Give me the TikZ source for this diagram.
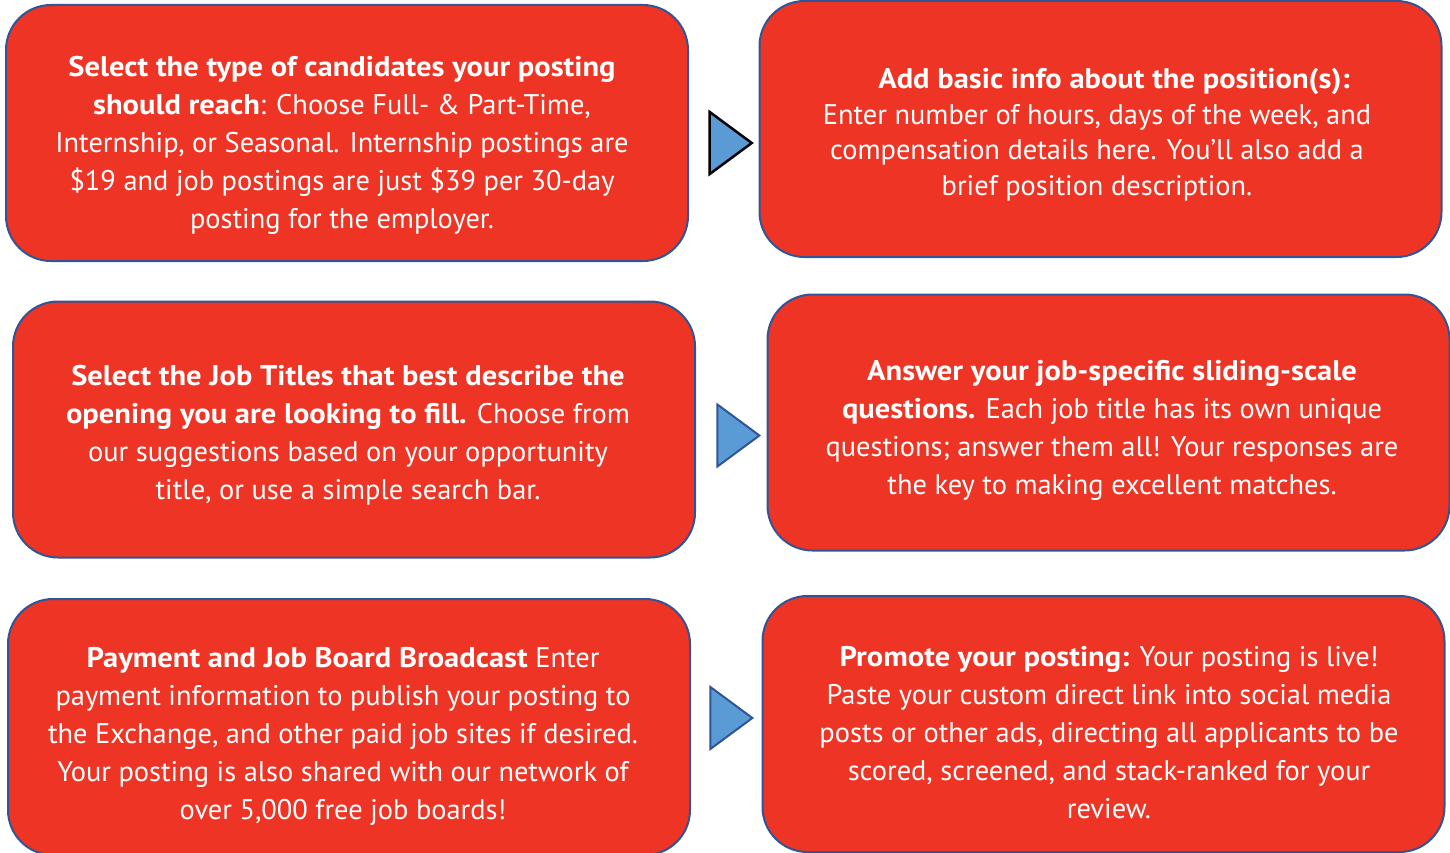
\documentclass[tikz,border=0pt]{standalone}
\usepackage{fontspec}
\setmainfont{PT Sans}[BoldFeatures={FakeStretch=1.075}]
\usetikzlibrary{shapes.geometric,positioning}

\definecolor{stepred}{HTML}{EE3424}
\definecolor{edgeblue}{HTML}{2F5597}
\definecolor{tipblue}{HTML}{5B9BD5}

\tikzset{
  stepbox/.style = {draw=edgeblue, line width=2pt, fill=stepred,
    rounded corners=45pt, minimum width=682pt, minimum height=256pt, inner sep=0pt},
  steptext/.style = {text=white, align=center, font=\fontsize{28.4}{38}\selectfont, inner sep=0pt},
  nextarrow/.style = {isosceles triangle, isosceles triangle stretches, fill=tipblue,
    draw=edgeblue, line width=2pt, minimum width=62pt, minimum height=42pt, inner sep=0pt,
    anchor=apex}
}

\begin{document}
\begin{tikzpicture}[x=1pt, y=-1pt]
    \useasboundingbox (0,0) rectangle (1450,853);

    % left column
    \node[stepbox] (type) at (347,133) {};
    \node[stepbox] (titles) at (354,429.5) {};
    \node[stepbox] (pay) at (349,727) {};

    % right column
    \node[stepbox] (info) at (1100.5,129) {};
    \node[stepbox] (answer) at (1108.5,422.5) {};
    \node[stepbox] (promote) at (1103.5,724) {};

    \node[steptext] (typetext) at (342,145) {\textbf{Select the type of candidates your posting}\\
      \textbf{should reach}: Choose Full- \& Part-Time,\\
      Internship, or Seasonal. Internship postings are\\
      \$19 and job postings are just \$39 per 30-day\\
      posting for the employer.};

    \node[steptext, font=\fontsize{28.4}{35.5}\selectfont] (infotext) at (1097,134.5) {\hspace*{34pt}\textbf{Add basic info about the position(s):}\\
      Enter number of hours, days of the week, and\\
      compensation details here. You’ll also add a\\
      brief position description.};

    \node[steptext] (titlestext) at (348,435.5) {\textbf{Select the Job Titles that best describe the}\\
      \textbf{opening you are looking to fill.} Choose from\\
      our suggestions based on your opportunity\\
      title, or use a simple search bar.};

    \node[steptext] (answertext) at (1112,430.5) {\textbf{Answer your job-specific sliding-scale}\\
      \textbf{questions.} Each job title has its own unique\\
      questions; answer them all! Your responses are\\
      the key to making excellent matches.};

    \node[steptext] (paytext) at (343,736) {\textbf{Payment and Job Board Broadcast} Enter\\
      payment information to publish your posting to\\
      the Exchange, and other paid job sites if desired.\\
      Your posting is also shared with our network of\\
      over 5,000 free job boards!};

    \node[steptext] (promotetext) at (1109,733) {\textbf{Promote your posting:} Your posting is live!\\
      Paste your custom direct link into social media\\
      posts or other ads, directing all applicants to be\\
      scored, screened, and stack-ranked for your\\
      review.};

    % arrows between the steps
    \node[nextarrow, draw=black, line width=2.5pt] (next1) at (755,143) {};
    \node[nextarrow] (next2) at (762,435.5) {};
    \node[nextarrow] (next3) at (755,718) {};
\end{tikzpicture}
\end{document}
